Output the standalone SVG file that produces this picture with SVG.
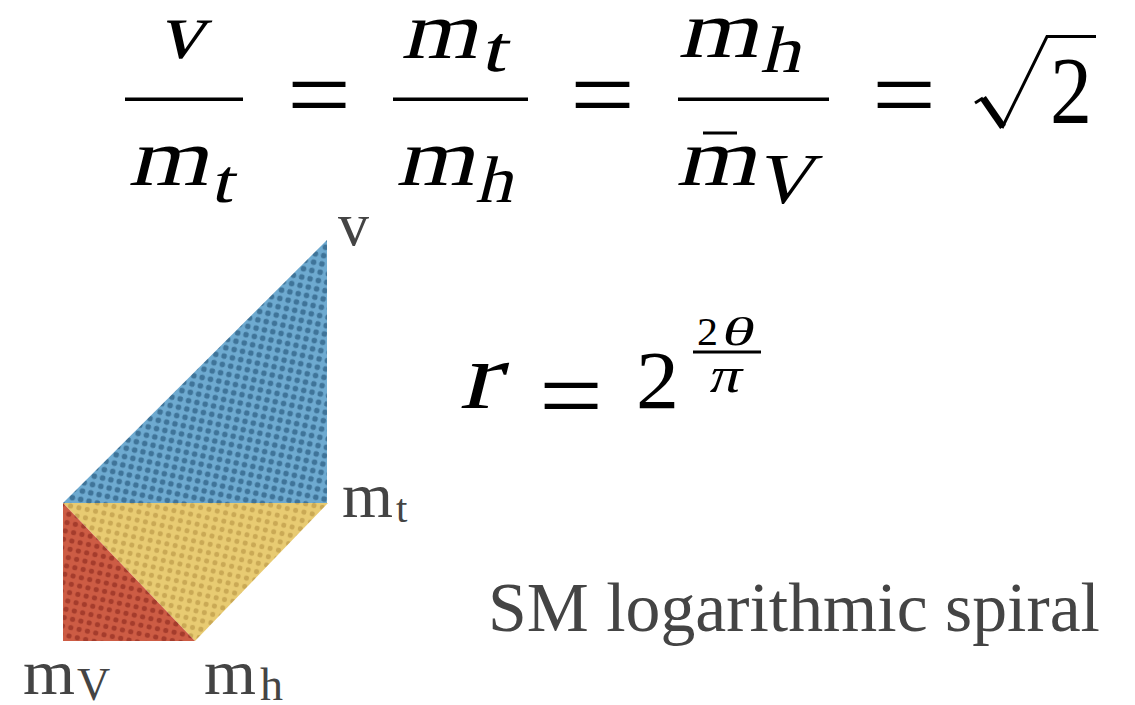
<svg xmlns="http://www.w3.org/2000/svg" width="1135" height="705" viewBox="0 0 1135 705">
<style>
.mi{font-family:"Liberation Serif",serif;font-weight:normal;fill:#000}
.mu{font-family:"Liberation Serif",serif;font-weight:normal;fill:#000}
.lb{font-family:"Liberation Serif",serif;fill:#444}
.rule{fill:#000}
</style>
<defs>
<pattern id="pBlue" patternUnits="userSpaceOnUse" width="8.5" height="8.5" patternTransform="rotate(12)">
<rect width="8.5" height="8.5" fill="#6eaad0"/>
<circle cx="4.25" cy="4.25" r="2.8" fill="#3f7499"/>
</pattern>
<pattern id="pYellow" patternUnits="userSpaceOnUse" width="8.5" height="8.5" patternTransform="rotate(12)">
<rect width="8.5" height="8.5" fill="#e8cb72"/>
<circle cx="4.25" cy="4.25" r="2.5" fill="#caa955"/>
</pattern>
<pattern id="pRed" patternUnits="userSpaceOnUse" width="8.5" height="8.5" patternTransform="rotate(12)">
<rect width="8.5" height="8.5" fill="#cd5c44"/>
<circle cx="4.25" cy="4.25" r="2.6" fill="#a53c2c"/>
</pattern>
</defs>
<rect width="1135" height="705" fill="#fff"/>

<g id="triangles">
<polygon id="blue" points="327,240 63,503 327,503" fill="url(#pBlue)"/>
<polygon id="yellow" points="63,503 328,503 195,641" fill="url(#pYellow)"/>
<polygon id="red" points="63,503 63,641 195,641" fill="url(#pRed)"/>
</g>

<g id="labels">
<text class="lb" x="338" y="245" font-size="62">v</text>
<text class="lb" x="342" y="517" font-size="64" textLength="51" lengthAdjust="spacingAndGlyphs">m</text>
<text class="lb" x="396" y="522" font-size="41">t</text>
<text class="lb" x="23" y="694" font-size="64" textLength="52" lengthAdjust="spacingAndGlyphs">m</text>
<text class="lb" x="77" y="700" font-size="46">V</text>
<text class="lb" x="204" y="694" font-size="64" textLength="52" lengthAdjust="spacingAndGlyphs">m</text>
<text class="lb" x="260" y="700" font-size="46">h</text>
<text class="lb" x="488" y="631" font-size="70" fill="#4a4a4a" textLength="612" lengthAdjust="spacingAndGlyphs">SM logarithmic spiral</text>
</g>

<g id="equation1">
<text class="mi" transform="translate(158,58) skewX(-14)" font-size="82" textLength="45" lengthAdjust="spacingAndGlyphs">v</text>
<rect class="rule" x="125" y="97.5" width="118" height="3.5"/>
<text class="mi" transform="translate(128,185) skewX(-14)" font-size="82" textLength="80" lengthAdjust="spacingAndGlyphs">m</text>
<text class="mi" transform="translate(210,202) skewX(-14)" font-size="62" textLength="22" lengthAdjust="spacingAndGlyphs">t</text>
<text class="mu" x="287" y="130" font-size="105" textLength="64" lengthAdjust="spacingAndGlyphs">=</text>
<text class="mi" transform="translate(401,58) skewX(-14)" font-size="82" textLength="76" lengthAdjust="spacingAndGlyphs">m</text>
<text class="mi" transform="translate(480,71) skewX(-14)" font-size="66" textLength="25" lengthAdjust="spacingAndGlyphs">t</text>
<rect class="rule" x="393" y="97.5" width="135" height="3.5"/>
<text class="mi" transform="translate(396,185) skewX(-14)" font-size="82" textLength="78" lengthAdjust="spacingAndGlyphs">m</text>
<text class="mi" transform="translate(475,202) skewX(-14)" font-size="66" textLength="37" lengthAdjust="spacingAndGlyphs">h</text>
<text class="mu" x="570" y="130" font-size="105" textLength="65" lengthAdjust="spacingAndGlyphs">=</text>
<text class="mi" transform="translate(678,57) skewX(-14)" font-size="82" textLength="80" lengthAdjust="spacingAndGlyphs">m</text>
<text class="mi" transform="translate(760,72) skewX(-14)" font-size="66" textLength="40" lengthAdjust="spacingAndGlyphs">h</text>
<rect class="rule" x="678" y="97.5" width="151" height="3.5"/>
<rect class="rule" x="703" y="131.5" width="34" height="3"/>
<text class="mi" transform="translate(676,185) skewX(-14)" font-size="82" textLength="80" lengthAdjust="spacingAndGlyphs">m</text>
<text class="mi" transform="translate(754,203) skewX(-14)" font-size="72" textLength="58" lengthAdjust="spacingAndGlyphs">V</text>
<text class="mu" x="872" y="130" font-size="105" textLength="64" lengthAdjust="spacingAndGlyphs">=</text>
<path d="M975,103 L983,98" stroke="#000" stroke-width="3" fill="none"/>
<path d="M983,98 L1003,127" stroke="#000" stroke-width="7" fill="none" stroke-linejoin="round"/>
<path d="M1002,128 L1047,36.5 H1096" stroke="#000" stroke-width="3" fill="none"/>
<text class="mu" x="1050" y="123" font-size="96" textLength="42" lengthAdjust="spacingAndGlyphs">2</text>
</g>

<g id="equation2">
<text class="mi" transform="translate(459,408) skewX(-14)" font-size="96" textLength="40" lengthAdjust="spacingAndGlyphs">r</text>
<text class="mu" x="539" y="431" font-size="105" textLength="64" lengthAdjust="spacingAndGlyphs">=</text>
<text class="mu" x="636" y="408" font-size="83" textLength="43" lengthAdjust="spacingAndGlyphs">2</text>
<text class="mu" x="697" y="345" font-size="40" textLength="21" lengthAdjust="spacingAndGlyphs">2</text>
<text class="mi" transform="translate(720,345) skewX(-14)" font-size="40" textLength="32" lengthAdjust="spacingAndGlyphs">θ</text>
<rect class="rule" x="693" y="350.5" width="68" height="3"/>
<text class="mi" transform="translate(707,392) skewX(-14)" font-size="50" textLength="32" lengthAdjust="spacingAndGlyphs">π</text>
</g>
</svg>
